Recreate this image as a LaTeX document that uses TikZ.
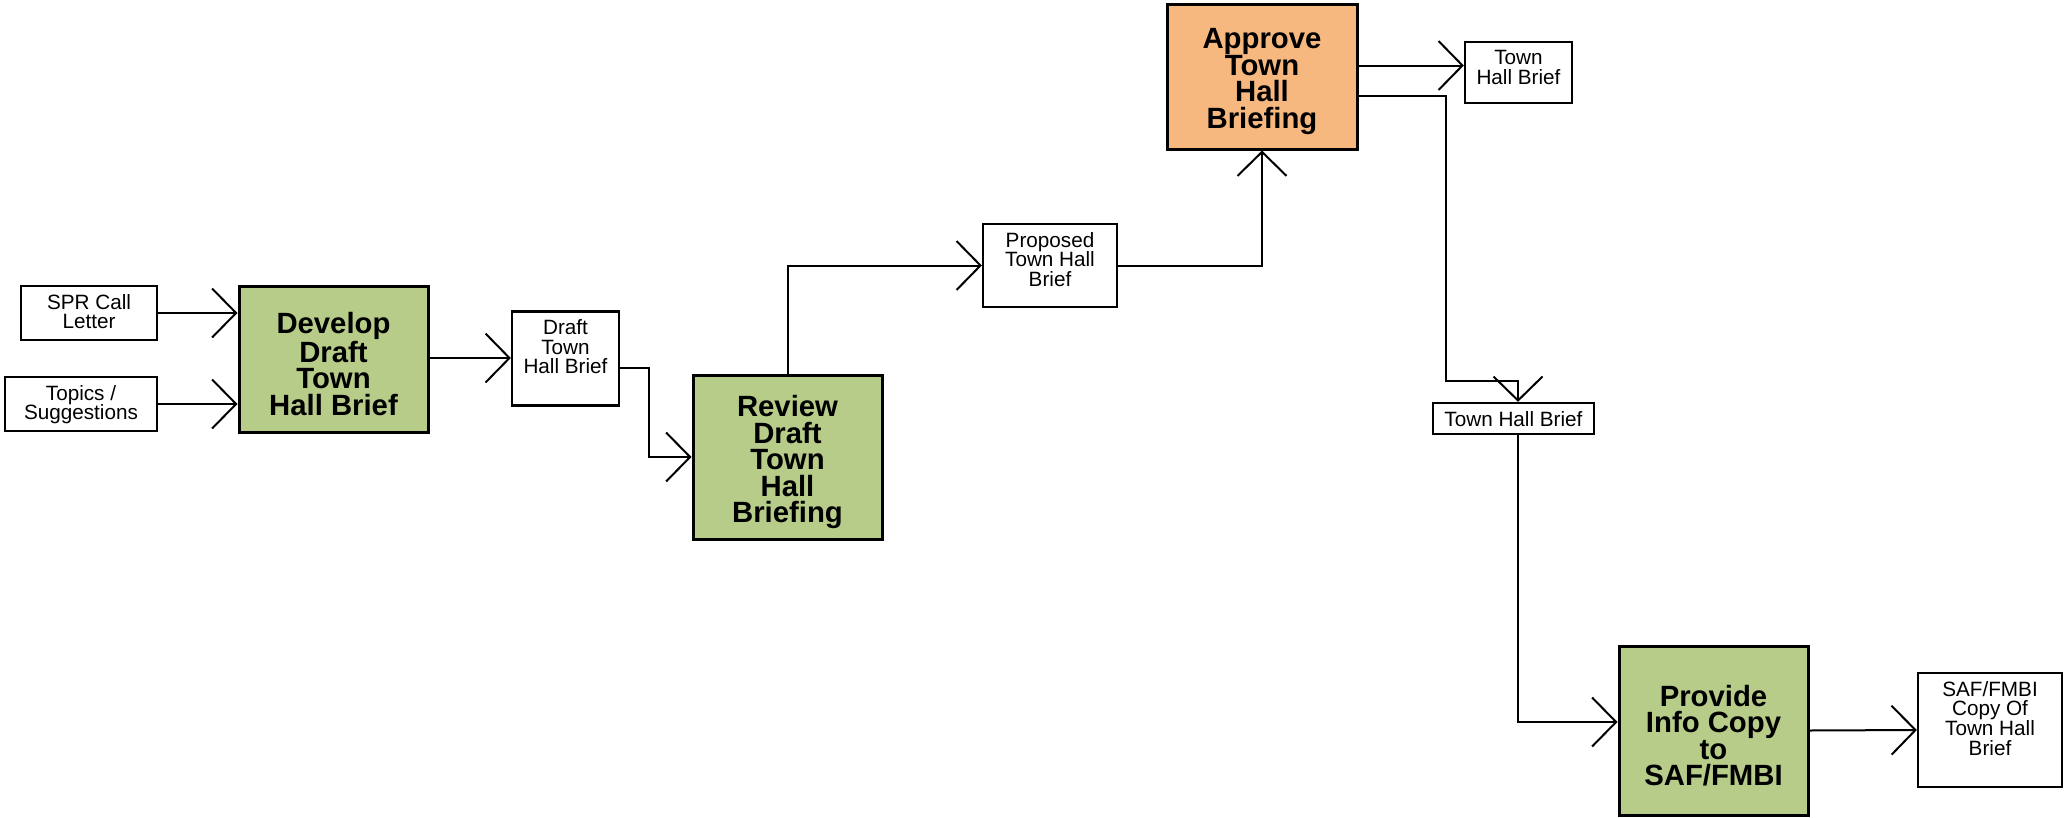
\documentclass[tikz,border=0pt]{standalone}
\usepackage{fontspec}
\setmainfont{Liberation Sans}
\usepackage{tikz}
\usetikzlibrary{arrows.meta}
\definecolor{taskgreen}{RGB}{183,204,137}
\definecolor{taskorange}{RGB}{247,184,128}

\begin{document}
\begin{tikzpicture}[x=1pt, y=-1pt,
    task/.style={draw, line width=3pt, inner sep=0pt, minimum width=189pt,
      label={[tasktext]center:#1}},
    tasktext/.style={anchor=center, yshift=-5pt, inner sep=0pt, align=center,
      font=\bfseries\fontsize{29.3}{26.5}\selectfont},
    doc/.style={draw, line width=2.2pt, fill=white, inner sep=0pt,
      label={[doctext]north:#1}},
    doctext/.style={anchor=north, yshift=-9pt, inner sep=0pt, align=center,
      font=\fontsize{20.7}{19.7}\selectfont},
    flow/.style={line width=2pt, -{Straight Barb[length=24pt, width=49pt]}}]
    \useasboundingbox (0,0) rectangle (2067,817);
    \node[doc={SPR Call\\Letter}, minimum width=136pt, minimum height=54pt] (spr) at (89,313) {};
    \node[doc={Topics /\\Suggestions}, minimum width=152pt, minimum height=54pt] (topics) at (81,404) {};
    \node[task={Develop\\Draft\\Town\\Hall Brief}, fill=taskgreen, minimum height=146pt] (develop) at (333.5,359) {};
    \node[doc={Draft\\Town\\Hall Brief}, minimum width=107pt, minimum height=94pt] (draft) at (565.5,358.5) {};
    \node[task={Review\\Draft\\Town\\Hall\\Briefing}, fill=taskgreen, minimum height=164pt] (review) at (787.5,457) {};
    \node[doc={Proposed\\Town Hall\\Brief}, minimum width=134pt, minimum height=83pt] (proposed) at (1050,265.5) {};
    \node[task={Approve\\Town\\Hall\\Briefing}, fill=taskorange, minimum width=190pt, minimum height=145pt] (approve) at (1262,76.5) {};
    \node[doc={Town\\Hall Brief}, minimum width=107pt, minimum height=61pt] (thbtop) at (1518.5,72.5) {};
    \node[doc={Town Hall Brief}, minimum width=161pt, minimum height=31pt] (thbmid) at (1513.5,418.5) {};
    \node[task={Provide\\Info Copy\\to\\SAF/FMBI}, fill=taskgreen, minimum height=169pt] (provide) at (1713.5,730.5) {};
    \node[doc={SAF/FMBI\\Copy Of\\Town Hall\\Brief}, minimum width=144pt, minimum height=114pt] (saf) at (1990,730) {};
    \coordinate (split) at (1446,381);
    \draw[flow] (spr.east) -- (spr.east -| develop.west);
    \draw[flow] (topics.east) -- (topics.east -| develop.west);
    \draw[flow] ([yshift=1pt]develop.east) -- ([yshift=1pt]develop.east -| draft.west);
    \draw[flow] ([yshift=-9pt]draft.east) -- ++(29,0) |- (review.west);
    \draw[flow] (review.north) |- (proposed.west);
    \draw[flow] (proposed.east) -| (approve.south);
    \draw[flow] ([yshift=11pt]approve.east) -- ([yshift=11pt]approve.east -| thbtop.west);
    \draw[flow] ([yshift=-19.5pt]approve.east) -| (split) -| ([xshift=4.5pt]thbmid.north);
    \draw[flow] ([xshift=4pt]thbmid.south) |- ([yshift=8.5pt]provide.west);
    \draw[flow] (provide.east) -- (saf.west);
\end{tikzpicture}
\end{document}
